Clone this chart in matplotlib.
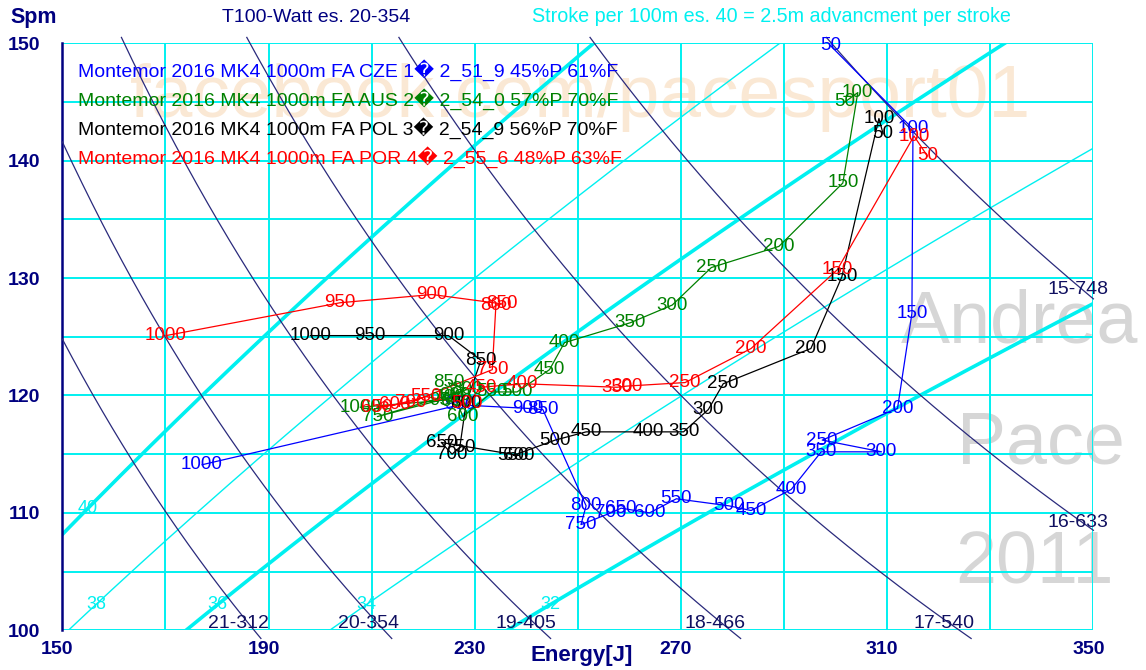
import numpy as np
import matplotlib.pyplot as plt
from matplotlib.transforms import ScaledTranslation

plt.rcParams['font.family'] = ['Liberation Sans', 'DejaVu Sans']

# iso-power curves, labelled "T100-Watt"
t100 = [21, 20, 19, 18, 17, 16, 15]
watt = [312, 354, 405, 466, 540, 633, 748]

# strokes per 100m lines (thick every 4)
strokes = [40, 38, 36, 34, 32]
stroke_lab_spm = [110.4, 102.2, 102.2, 102.2, 102.2]

dist = [50, 100, 150, 200, 250, 300, 350, 400, 450, 500,
        550, 600, 650, 700, 750, 800, 850, 900, 950, 1000]

cze_e = [299.0, 315.0, 314.8, 312.0, 297.4, 308.9, 297.2, 291.4, 283.6, 279.3,
         269.1, 263.9, 258.4, 256.4, 250.6, 251.6, 243.2, 240.3, 227.1, 177.1]
cze_spm = [149.8, 142.7, 127.0, 118.9, 116.2, 115.2, 115.2, 112.0, 110.2, 110.6,
           111.2, 110.0, 110.4, 110.0, 109.0, 110.6, 118.8, 118.9, 119.2, 114.1]

aus_e = [301.8, 304.3, 301.4, 289.0, 275.9, 268.3, 260.2, 247.4, 244.5, 238.2,
         233.4, 227.7, 226.5, 225.0, 211.1, 228.5, 224.9, 226.2, 224.2, 207.8]
aus_spm = [145.0, 145.8, 138.1, 132.7, 130.9, 127.7, 126.2, 124.5, 122.2, 120.3,
           120.3, 118.2, 119.5, 119.8, 118.2, 120.5, 121.1, 120.0, 119.6, 119.0]

pol_e = [309.2, 308.4, 301.2, 295.2, 278.2, 275.3, 270.5, 263.6, 251.6, 245.6,
         237.5, 238.5, 223.5, 225.6, 227.1, 228.3, 231.2, 224.9, 209.7, 198.1]
pol_spm = [142.3, 143.6, 130.1, 124.0, 121.0, 118.8, 116.9, 116.9, 116.9, 116.2,
           114.9, 114.9, 116.0, 115.0, 115.6, 119.3, 123.0, 125.1, 125.1, 125.1]

por_e = [317.8, 315.2, 300.3, 283.6, 270.8, 259.5, 257.6, 239.2, 231.2, 228.5,
         220.5, 214.5, 211.0, 217.5, 233.4, 234.1, 235.3, 221.7, 203.9, 170.1]
por_spm = [140.4, 142.1, 130.7, 124.0, 121.1, 120.8, 120.7, 121.0, 120.7, 119.3,
           119.9, 119.2, 119.0, 119.4, 122.2, 127.7, 127.8, 128.6, 127.9, 125.1]

crews = [
    ('Montemor 2016 MK4 1000m FA CZE 1\ufffd 2_51_9 45%P 61%F', '#0000FF', cze_e, cze_spm),
    ('Montemor 2016 MK4 1000m FA AUS 2\ufffd 2_54_0 57%P 70%F', '#008000', aus_e, aus_spm),
    ('Montemor 2016 MK4 1000m FA POL 3\ufffd 2_54_9 56%P 70%F', '#000000', pol_e, pol_spm),
    ('Montemor 2016 MK4 1000m FA POR 4\ufffd 2_55_6 48%P 63%F', '#FF0000', por_e, por_spm),
]

navy = '#000080'
cyan = '#00F0F0'

fig = plt.figure(figsize=(11.46, 6.7), dpi=100)
ax = fig.add_axes([0.0544, 0.0593, 0.8997, 0.8761])
ax.set_xlim(150, 350)
ax.set_ylim(100, 150)

ax.set_xticks(np.arange(150, 351, 40))
ax.set_xticks(np.arange(150, 351, 20), minor=True)
ax.set_yticks(np.arange(100, 151, 10))
ax.set_yticks(np.arange(100, 151, 5), minor=True)
ax.grid(which='both', color=cyan, lw=1.4, zorder=1)
ax.set_axisbelow(True)
ax.tick_params(which='both', length=0, colors=navy, labelsize=14)
ax.tick_params(axis='x', pad=8)
ax.tick_params(axis='y', pad=16)
for lab in ax.get_xticklabels() + ax.get_yticklabels():
    lab.set_fontweight('bold')
for lab in ax.get_xticklabels():
    lab.set_transform(lab.get_transform() + ScaledTranslation(-0.05, 0, fig.dpi_scale_trans))
for side in ['top', 'right', 'bottom']:
    ax.spines[side].set_visible(False)
ax.spines['left'].set_color(navy)
ax.spines['left'].set_linewidth(1.8)
ax.patch.set_alpha(0)

# power model fitted on the labelled T100-Watt pairs
b, a = np.polyfit(np.log(t100), np.log(watt), 1)

def power(t):
    return np.exp(a + b * np.log(t))

# strokes per 100m lines
tt = np.linspace(10, 40, 400)
for i, n in enumerate(strokes):
    spm = 60 * n / tt
    e = power(tt) * tt / n
    ax.plot(e, spm, color=cyan, lw=2.6 if n % 4 == 0 else 1.0, zorder=2)
    tl = 60 * n / stroke_lab_spm[i]
    el = power(tl) * tl / n
    ax.text(el, stroke_lab_spm[i], str(n), color=cyan, fontsize=13,
            ha='center', va='center', zorder=3)

# iso-power curves
for t, p in zip(t100, watt):
    e = np.linspace(max(150, 60 * p / 150.5), min(350, 60 * p / 99.3), 200)
    ax.plot(e, 60 * p / e, color='#2A2A7C', lw=0.9, zorder=3, clip_on=False)
    if 60 * p / 100 < 340:
        ex, sy = 60 * p / 100 - 3, 100.6
    else:
        ex, sy = 347, 60 * p / 347 - 0.3
    ax.text(ex, sy, '%d-%d' % (t, p), color='#101060', fontsize=14,
            ha='center', va='center', zorder=4)

# watermarks (behind the axes)
fig.text(130 / 1146, 1 - 117 / 670, 'facebook.com/pacesport01', fontsize=54,
         color='#FAE8D4', va='baseline', ha='left', zorder=-1)
for word, px, py in [('Andrea', 901, 342), ('Pace', 957, 463), ('2011', 955, 583)]:
    fig.text(px / 1146, 1 - py / 670, word, fontsize=53, color='#D6D6D6',
             va='baseline', ha='left', zorder=-1)

# crews
for k, (name, col, e, s) in enumerate(crews):
    ax.plot(e, s, color=col, lw=0.9, zorder=5)
    for d, x, y in zip(dist, e, s):
        ax.text(x, y, str(d), color=col, fontsize=13.5, ha='center', va='center',
                zorder=6, clip_on=False)
    ax.text(0.0152, 0.9545 - k * 0.0495, name, color=col, fontsize=14,
            transform=ax.transAxes, ha='left', va='center', zorder=6)

fig.text(10 / 1146, 1 - 17 / 670, 'Spm', color=navy, fontsize=15.5,
         fontweight='bold', va='center')
fig.text(222 / 1146, 1 - 17 / 670, 'T100-Watt es. 20-354', color=navy,
         fontsize=14, va='center')
fig.text(532 / 1146, 1 - 17 / 670,
         'Stroke per 100m es. 40 = 2.5m advancment per stroke', color=cyan,
         fontsize=14.2, va='center')
fig.text(530 / 1146, 1 - 656 / 670, 'Energy[J]', color=navy, fontsize=16,
         fontweight='bold', va='center')

fig.savefig('out.png', dpi=100)
